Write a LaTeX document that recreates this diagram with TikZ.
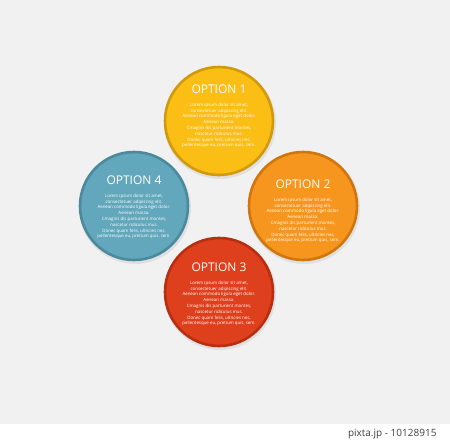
\documentclass[tikz,border=0pt]{standalone}
\usepackage{fontspec}
\setmainfont{Open Sans}
\usetikzlibrary{positioning}

\definecolor{bggray}{HTML}{F1F1F1}
\definecolor{optyellow}{HTML}{FBBE14}
\definecolor{optyellowrim}{HTML}{D19A0C}
\definecolor{optorange}{HTML}{F7961E}
\definecolor{optorangerim}{HTML}{D0760E}
\definecolor{optred}{HTML}{DE3F1C}
\definecolor{optredrim}{HTML}{B82E10}
\definecolor{optteal}{HTML}{62A7BB}
\definecolor{opttealrim}{HTML}{4A8A9C}

\tikzset{
  optcircle/.style={circle, minimum size=108pt, inner sep=0pt, line width=2.6pt},
  opttitle/.style={text=white, font=\fontsize{12}{12}\selectfont},
  optbody/.style={text=white, align=center, font=\fontsize{4.4}{5.8}\selectfont},
}

\newcommand{\loremtext}{Lorem ipsum dolor sit amet,\\consectetuer adipiscing elit.\\Aenean commodo ligula eget dolor.\\Aenean massa.\\Cmagnis dis parturient montes,\\nascetur ridiculus mus.\\Donec quam felis, ultricies nec,\\pellentesque eu, pretium quis, sem.}

\begin{document}
\begin{tikzpicture}[x=1pt, y=-1pt]
    \fill[bggray] (0,0) rectangle (450,424);
    \fill[white] (0,424) rectangle (450,444);
    \useasboundingbox (0,0) rectangle (450,444);

    % soft shadows
    \foreach \cx/\cy in {219/121, 303/206, 219/292, 134/206}
        \fill[black!12] (\cx+1,\cy+2) circle (56);

    \node[optcircle, fill=optyellow, draw=optyellowrim] (opt1) at (219,121) {};
    \node[optcircle, fill=optorange, draw=optorangerim] (opt2) at (303,206) {};
    \node[optcircle, fill=optred,    draw=optredrim]    (opt3) at (219,292) {};
    \node[optcircle, fill=optteal,   draw=opttealrim]   (opt4) at (134,206) {};

    \node[opttitle] (title1) at ([yshift=32pt]opt1.center) {OPTION 1};
    \node[opttitle] (title2) at ([yshift=22pt]opt2.center) {OPTION 2};
    \node[opttitle] (title3) at ([yshift=25pt]opt3.center) {OPTION 3};
    \node[opttitle] (title4) at ([yshift=26pt]opt4.center) {OPTION 4};

    \node[optbody, below=2.5pt of title1] (body1) {\loremtext};
    \node[optbody, below=2.5pt of title2] (body2) {\loremtext};
    \node[optbody, below=2.5pt of title3] (body3) {\loremtext};
    \node[optbody, below=2.5pt of title4] (body4) {\loremtext};

    \node[anchor=east, text=black!75, font=\fontsize{10}{10}\selectfont] (credit) at (440,434) {pixta.jp - 10128915};
\end{tikzpicture}
\end{document}
